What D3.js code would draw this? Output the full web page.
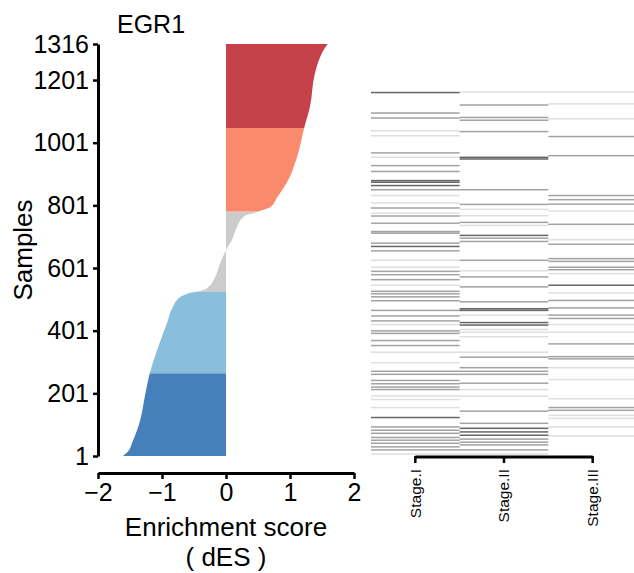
<!DOCTYPE html>
<html>
<head>
<meta charset="utf-8">
<script src="https://cdn.jsdelivr.net/npm/d3@7"></script>
<style>
  body { margin: 0; background: #fff; }
  text { font-family: "Liberation Sans", Arial, sans-serif; fill: #000; }
</style>
</head>
<body>
<svg id="chart" width="634" height="573"></svg>
<script>
// waterfall of sorted enrichment scores
const sampleKnots = [1, 11, 52, 116, 189, 266, 349, 426, 477, 508, 515, 522, 528, 540, 572, 617, 658, 690, 731, 763, 770, 779, 785, 795, 827, 881, 955, 1047, 1114, 1223, 1274, 1305, 1316];
const esKnots = [-1.61, -1.55, -1.45, -1.34, -1.27, -1.19, -1.06, -0.92, -0.83, -0.72, -0.65, -0.55, -0.40, -0.28, -0.17, -0.09, 0.0, 0.09, 0.17, 0.27, 0.32, 0.48, 0.56, 0.69, 0.80, 0.97, 1.11, 1.22, 1.31, 1.39, 1.47, 1.55, 1.59];

// groups of samples (first, last) and colours
const groupStarts = [1, 266, 525, 782, 1048];
const groupEnds = [265, 524, 781, 1047, 1316];
const groupColors = ["#4580BA", "#89BEDC", "#CCCCCC", "#FB8A6C", "#C6424A"];

const yTicks = [1, 201, 401, 601, 801, 1001, 1201, 1316];
const xTicks = [-2, -1, 0, 1, 2];

// stage annotation heatmap: rank of each marked sample and how many samples stack on that row
const stages = ["Stage.I", "Stage.II", "Stage.III"];
const stageIRanks = [1314, 1240, 1222, 1176, 1158, 1096, 1080, 1050, 1029, 996, 990, 978, 963, 942, 915, 897, 878, 868, 842, 812, 806, 770, 758, 742, 708, 683, 668, 656, 638, 618, 596, 587, 576, 562, 527, 507, 489, 476, 453, 444, 418, 400, 376, 338, 307, 296, 274, 262, 250, 241, 218, 205, 176, 140, 106, 94, 83, 68, 58, 47, 34, 23, 8];
const stageIWeights = [3, 2, 2, 1, 1, 2, 1, 2, 2, 3, 3, 3, 2, 1, 1, 2, 1, 2, 2, 2, 2, 2, 3, 2, 1, 1, 2, 2, 2, 1, 2, 2, 2, 2, 2, 2, 2, 1, 2, 2, 2, 2, 1, 1, 2, 2, 2, 2, 2, 2, 1, 1, 1, 3, 2, 2, 2, 2, 2, 2, 2, 2, 1];
const stageIIRanks = [1316, 1269, 1224, 1214, 1173, 1080, 1074, 963, 910, 892, 869, 845, 834, 798, 788, 776, 708, 670, 648, 612, 558, 533, 527, 510, 483, 474, 458, 448, 432, 376, 358, 320, 307, 296, 264, 241, 217, 163, 119, 101, 88, 76, 62, 51, 41, 23, 8];
const stageIIWeights = [1, 2, 2, 2, 2, 3, 3, 2, 2, 1, 1, 2, 1, 3, 2, 2, 2, 1, 2, 2, 2, 3, 3, 1, 3, 3, 1, 1, 1, 1, 2, 2, 2, 2, 2, 1, 1, 2, 2, 3, 3, 3, 2, 2, 2, 2, 1];
const stageIIIRanks = [1316, 1273, 1219, 1155, 1086, 942, 927, 911, 886, 838, 782, 766, 714, 704, 683, 674, 660, 618, 590, 563, 536, 510, 498, 476, 448, 406, 360, 352, 320, 277, 208, 176, 166, 148, 137, 106, 73];
const stageIIIWeights = [1, 1, 1, 2, 2, 2, 2, 2, 1, 2, 1, 2, 2, 2, 2, 2, 1, 3, 1, 2, 2, 2, 2, 1, 1, 2, 2, 2, 1, 1, 1, 2, 2, 1, 1, 1, 1];

const svg = d3.select("#chart");

const y = d3.scaleLinear().domain([1, 1316]).range([456, 44]);
const x = d3.scaleLinear().domain([-2, 2]).range([98, 354]);

const knots = sampleKnots.map((s, i) => ({ s: s, es: esKnots[i] }));

const defs = svg.append("defs");
groupStarts.forEach((g, i) => {
  defs.append("clipPath")
      .attr("id", "band" + i)
    .append("rect")
      .attr("x", 0)
      .attr("width", 634)
      .attr("y", y(groupEnds[i] + 0.5))
      .attr("height", y(g - 0.5) - y(groupEnds[i] + 0.5));
});

const area = d3.area()
    .y(d => y(d.s))
    .x0(x(0))
    .x1(d => x(d.es))
    .curve(d3.curveMonotoneY);

const waterfall = svg.append("g").attr("class", "waterfall");
groupColors.forEach((c, i) => {
  waterfall.append("path")
      .datum(knots)
      .attr("d", area)
      .attr("fill", c)
      .attr("clip-path", `url(#band${i})`);
});

// axes
const yAxis = svg.append("g")
    .attr("transform", `translate(${x.range()[0]},0)`)
    .call(d3.axisLeft(y).tickValues(yTicks).tickSize(5).tickSizeOuter(0).tickPadding(4)
      .tickFormat(d3.format("d")));

const xAxis = svg.append("g")
    .attr("transform", "translate(0,473)")
    .call(d3.axisBottom(x).tickValues(xTicks).tickSize(6).tickSizeOuter(0).tickPadding(4)
      .tickFormat(d => d < 0 ? "\u2212" + Math.abs(d) : d));

[yAxis, xAxis].forEach(a => {
  a.select(".domain").attr("stroke-width", 3).attr("stroke", "#000");
  a.selectAll(".tick line").attr("stroke-width", 2.5).attr("stroke", "#000");
  a.selectAll(".tick text").style("font-size", "25px").attr("fill", "#000");
});

svg.append("text")
    .attr("x", 117)
    .attr("y", 33)
    .style("font-size", "25px")
    .text("EGR1");

svg.append("text")
    .attr("transform", "translate(32,250) rotate(-90)")
    .attr("text-anchor", "middle")
    .style("font-size", "26px")
    .text("Samples");

svg.append("text")
    .attr("x", 226)
    .attr("y", 536)
    .attr("text-anchor", "middle")
    .style("font-size", "26px")
    .text("Enrichment score");

svg.append("text")
    .attr("x", 226)
    .attr("y", 566)
    .attr("text-anchor", "middle")
    .style("font-size", "26px")
    .text("( dES )");

// heatmap of stages
const hx = d3.scaleBand().domain(stages).range([371, 637]).padding(0);
const hy = d3.scaleLinear().domain([1, 1316]).range([456, 92]);
const alpha = d3.scaleLinear().domain([1, 3]).range([0.13, 0.6]);

const stageRows = [
  { stage: stages[0], ranks: stageIRanks, weights: stageIWeights },
  { stage: stages[1], ranks: stageIIRanks, weights: stageIIWeights },
  { stage: stages[2], ranks: stageIIIRanks, weights: stageIIIWeights }
];

const heat = svg.append("g").attr("class", "heat");
stageRows.forEach(col => {
  heat.selectAll(null)
      .data(col.ranks.map((r, i) => ({ r: r, w: col.weights[i] })))
      .enter().append("rect")
        .attr("x", hx(col.stage))
        .attr("width", hx.bandwidth())
        .attr("y", d => hy(d.r) - 0.75)
        .attr("height", 1.5)
        .attr("fill", "#000")
        .attr("fill-opacity", d => alpha(d.w));
});

const sAxis = svg.append("g")
    .attr("transform", "translate(0,457)");
sAxis.append("line")
    .attr("x1", hx(stages[0]) + hx.bandwidth() / 2)
    .attr("x2", hx(stages[2]) + hx.bandwidth() / 2)
    .attr("stroke", "#000")
    .attr("stroke-width", 3);
sAxis.selectAll("g.stick")
    .data(stages)
    .enter().append("g")
      .attr("class", "stick")
      .attr("transform", d => `translate(${hx(d) + hx.bandwidth() / 2},0)`)
      .each(function(d) {
        const g = d3.select(this);
        g.append("line").attr("y1", -1).attr("y2", 6).attr("stroke", "#000").attr("stroke-width", 2.5);
        g.append("text")
            .attr("transform", "translate(0,12) rotate(-90)")
            .attr("text-anchor", "end")
            .attr("dy", "0.35em")
            .style("font-size", "15.5px")
            .text(d);
      });
</script>
</body>
</html>
